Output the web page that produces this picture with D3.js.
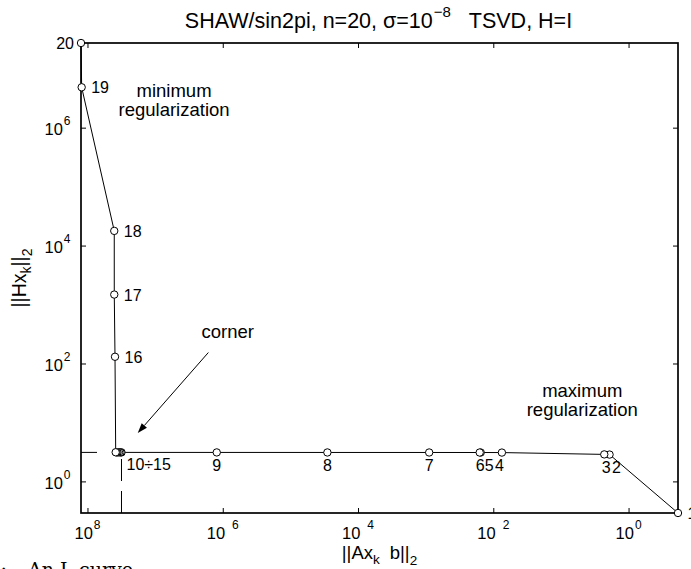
<!DOCTYPE html>
<html>
<head>
<meta charset="utf-8">
<script src="https://cdn.jsdelivr.net/npm/d3@7"></script>
<style>
  body { margin: 0; background: #fff; }
  svg { display: block; font-family: "Liberation Sans", Arial, Helvetica, sans-serif; }
  text { white-space: pre; fill: #000; }
</style>
</head>
<body>
<div id="chart"></div>
<script>
/* CONSTANTS AND GLOBALS */
const width = 691,
  height = 569,
  margin = { top: 43, right: 13, bottom: 56, left: 81 },
  radius = 3.7;

/* DATA */
// truncation parameter k of the TSVD solution
const kValues = [1, 2, 3, 4, 5, 6, 7, 8, 9, 10, 11, 12, 13, 14, 15, 16, 17, 18, 19, 20];
// residual norm ||A x_k - b||_2
const residualNorm = [0.1858, 1.910, 2.286, 74.6, 153.5, 158.9, 887, 28380, 1.227e6,
  3.141e7, 3.251e7, 3.420e7, 3.597e7, 3.724e7, 3.828e7, 3.917e7, 4.018e7, 4.02e7, 1.219e8, 1.247e8];
// solution norm ||H x_k||_2
const solutionNorm = [0.2911, 2.851, 2.871, 3.083, 3.090, 3.090, 3.094, 3.097, 3.101,
  3.105, 3.107, 3.110, 3.112, 3.116, 3.120, 130.0, 1476, 17740, 4.842e6, 2.729e7];

const xTickValues = [1e8, 1e6, 1e4, 1e2, 1e0];
const xTickLabels = ["10^8", "10 ^6", "10 ^4", "10 ^2", "10^0"];
const yTickValues = [1e0, 1e2, 1e4, 1e6];
const yTickLabels = ["10^0", "10^2", "10^4", "10^6"];

// which points get a number and on which side
const pointLabels = [
  { k: 20, text: "20", place: "left" },
  { k: 19, text: "19", place: "right" },
  { k: 18, text: "18", place: "right" },
  { k: 17, text: "17", place: "right" },
  { k: 16, text: "16", place: "right" },
  { k: 10, text: "10÷15", place: "belowRight" },
  { k: 9, text: "9", place: "below" },
  { k: 8, text: "8", place: "below" },
  { k: 7, text: "7", place: "below" },
  { k: 6, text: "6", place: "below" },
  { k: 5, text: "5", place: "below" },
  { k: 4, text: "4", place: "below" },
  { k: 3, text: "3", place: "below" },
  { k: 2, text: "2", place: "below" },
  { k: 1, text: "1", place: "right" }
];
const cornerK = 10;

// text notes, in data coordinates (residual, solution)
const noteText = [["minimum", "regularization"], ["corner"], ["maximum", "regularization"]];
const noteRes = [5.25e6, 8.43e5, 4.84];
const noteSol = [3.35e6, 275, 27.3];
const arrowRes = [1.633e6, 1.807e7];
const arrowSol = [153.5, 6.61];

const data = kValues.map((k, i) => ({ k: k, res: residualNorm[i], sol: solutionNorm[i] }));

/* SCALES */
const xExtent = d3.extent(data, d => d.res);
const yExtent = d3.extent(data, d => d.sol);

// residual axis runs from large (left) to small (right)
const xScale = d3.scaleLog()
  .domain([xExtent[1], xExtent[0]])
  .range([margin.left, width - margin.right]);

const yScale = d3.scaleLog()
  .domain(yExtent)
  .range([height - margin.bottom, margin.top]);

const svg = d3.select("#chart")
  .append("svg")
  .attr("width", width)
  .attr("height", height);

const plotLeft = margin.left, plotRight = width - margin.right,
  plotTop = margin.top, plotBottom = height - margin.bottom;

/* FRAME + TICKS */
svg.append("rect")
  .attr("x", plotLeft).attr("y", plotTop)
  .attr("width", plotRight - plotLeft).attr("height", plotBottom - plotTop)
  .attr("fill", "none").attr("stroke", "#000").attr("stroke-width", 1.7);

function ticks(g) {
  g.select(".domain").remove();
  g.selectAll("line").attr("stroke", "#000").attr("stroke-width", 1);
}
svg.append("g").attr("transform", `translate(0,${plotBottom})`)
  .call(d3.axisBottom(xScale).tickValues(xTickValues).tickSize(-5).tickFormat("")).call(ticks);
svg.append("g").attr("transform", `translate(0,${plotTop})`)
  .call(d3.axisTop(xScale).tickValues(xTickValues).tickSize(-5).tickFormat("")).call(ticks);
svg.append("g").attr("transform", `translate(${plotLeft},0)`)
  .call(d3.axisLeft(yScale).tickValues(yTickValues).tickSize(-5).tickFormat("")).call(ticks);
svg.append("g").attr("transform", `translate(${plotRight},0)`)
  .call(d3.axisRight(yScale).tickValues(yTickValues).tickSize(-5).tickFormat("")).call(ticks);

// tick labels written like 10^n
function powerLabel(sel, label) {
  const parts = label.split("^");
  const spaced = parts[0].endsWith(" ");
  sel.append("tspan").attr("font-size", 16.5).text(parts[0].trim());
  sel.append("tspan").attr("font-size", 12).attr("dy", -10).attr("dx", spaced ? 7 : 1).text(parts[1]);
}

xTickValues.forEach((v, i) => {
  const t = svg.append("text")
    .attr("x", xScale(v)).attr("y", plotBottom + 26)
    .attr("text-anchor", "middle");
  powerLabel(t, xTickLabels[i]);
});

yTickValues.forEach((v, i) => {
  const t = svg.append("text")
    .attr("x", plotLeft - 10.5).attr("y", yScale(v) + 7.5)
    .attr("text-anchor", "end");
  powerLabel(t, yTickLabels[i]);
});

/* CORNER GUIDES */
const corner = data.find(d => d.k === cornerK);
svg.append("line")
  .attr("x1", xScale(corner.res)).attr("y1", plotBottom)
  .attr("x2", xScale(corner.res)).attr("y2", yScale(corner.sol))
  .attr("stroke", "#000").attr("stroke-width", 1).attr("stroke-dasharray", "22,10");
svg.append("line")
  .attr("x1", plotLeft).attr("y1", yScale(corner.sol))
  .attr("x2", xScale(corner.res)).attr("y2", yScale(corner.sol))
  .attr("stroke", "#000").attr("stroke-width", 1).attr("stroke-dasharray", "16,20");

/* L-CURVE */
const line = d3.line()
  .x(d => xScale(d.res))
  .y(d => yScale(d.sol));

svg.append("path")
  .datum(data)
  .attr("d", line)
  .attr("fill", "none")
  .attr("stroke", "#000")
  .attr("stroke-width", 1);

svg.selectAll("circle.dot")
  .data(data)
  .join("circle")
  .attr("class", "dot")
  .attr("cx", d => xScale(d.res))
  .attr("cy", d => yScale(d.sol))
  .attr("r", radius)
  .attr("fill", "#fff")
  .attr("stroke", "#000")
  .attr("stroke-width", 1);

/* POINT NUMBERS */
const labelNudge = { 6: 0.5, 5: 8.5, 4: -2.5, 3: 2, 2: 7 };
pointLabels.forEach(p => {
  const d = data.find(e => e.k === p.k);
  const px = xScale(d.res), py = yScale(d.sol);
  const t = svg.append("text").attr("font-size", 16).text(p.text);
  if (p.place === "left") {
    t.attr("x", px - 7).attr("y", py + 5.5).attr("text-anchor", "end");
  } else if (p.place === "right") {
    t.attr("x", px + 9.5).attr("y", py + 6);
  } else if (p.place === "belowRight") {
    t.attr("x", px + 5).attr("y", py + 18);
  } else {
    t.attr("x", px + (labelNudge[p.k] || 0)).attr("y", py + 18.5).attr("text-anchor", "middle");
  }
});

/* NOTES */
noteText.forEach((lines, i) => {
  const t = svg.append("text")
    .attr("x", xScale(noteRes[i])).attr("y", yScale(noteSol[i]))
    .attr("text-anchor", "middle").attr("font-size", 18.5);
  lines.forEach((s, j) => {
    t.append("tspan").attr("x", xScale(noteRes[i])).attr("dy", j === 0 ? 0 : 19.5).text(s);
  });
});

// arrow pointing at the corner
const ax1 = xScale(arrowRes[0]), ay1 = yScale(arrowSol[0]),
  ax2 = xScale(arrowRes[1]), ay2 = yScale(arrowSol[1]);
const ang = Math.atan2(ay2 - ay1, ax2 - ax1);
const headLen = 10, headW = 3.5;
const bx = ax2 - headLen * Math.cos(ang), by = ay2 - headLen * Math.sin(ang);
svg.append("line")
  .attr("x1", ax1).attr("y1", ay1).attr("x2", bx).attr("y2", by)
  .attr("stroke", "#000").attr("stroke-width", 1);
svg.append("path")
  .attr("d", `M${ax2},${ay2}L${bx + headW * Math.sin(ang)},${by - headW * Math.cos(ang)}L${bx - headW * Math.sin(ang)},${by + headW * Math.cos(ang)}Z`)
  .attr("fill", "#000");

/* TITLE AND AXIS LABELS */
const title = svg.append("text")
  .attr("x", (plotLeft + plotRight) / 2 - 1).attr("y", 28)
  .attr("text-anchor", "middle").attr("font-size", 21.5);
title.append("tspan").text("SHAW/sin2pi, n=20, σ=10");
title.append("tspan").attr("font-size", 15).attr("dy", -11).attr("dx", 1).text("−8");
title.append("tspan").attr("dy", 11).text("   TSVD, H=I");

const xLabel = svg.append("text")
  .attr("x", (plotLeft + plotRight) / 2).attr("y", plotBottom + 46)
  .attr("text-anchor", "middle").attr("font-size", 18.5);
xLabel.append("tspan").text("||Ax");
xLabel.append("tspan").attr("font-size", 13.5).attr("dy", 5).text("k");
xLabel.append("tspan").attr("dy", -5).attr("dx", 10).text("b||");
xLabel.append("tspan").attr("font-size", 13.5).attr("dy", 6).text("2");

const yLabel = svg.append("text")
  .attr("transform", `translate(26,${(plotTop + plotBottom) / 2}) rotate(-90)`)
  .attr("text-anchor", "middle").attr("font-size", 19.5);
yLabel.append("tspan").text("||Hx");
yLabel.append("tspan").attr("font-size", 14).attr("dy", 5).text("k");
yLabel.append("tspan").attr("dy", -5).text("||");
yLabel.append("tspan").attr("font-size", 14).attr("dy", 6).text("2");

/* CAPTION (cut off at the bottom edge, as in the source page) */
svg.append("text")
  .attr("x", 7).attr("y", 576).attr("text-anchor", "end")
  .attr("font-family", "DejaVu Serif, serif").attr("font-size", 19)
  .text(":");
svg.append("text")
  .attr("x", 28).attr("y", 576)
  .attr("font-family", "DejaVu Serif, serif").attr("font-size", 19)
  .text("An L-curve");
</script>
</body>
</html>
